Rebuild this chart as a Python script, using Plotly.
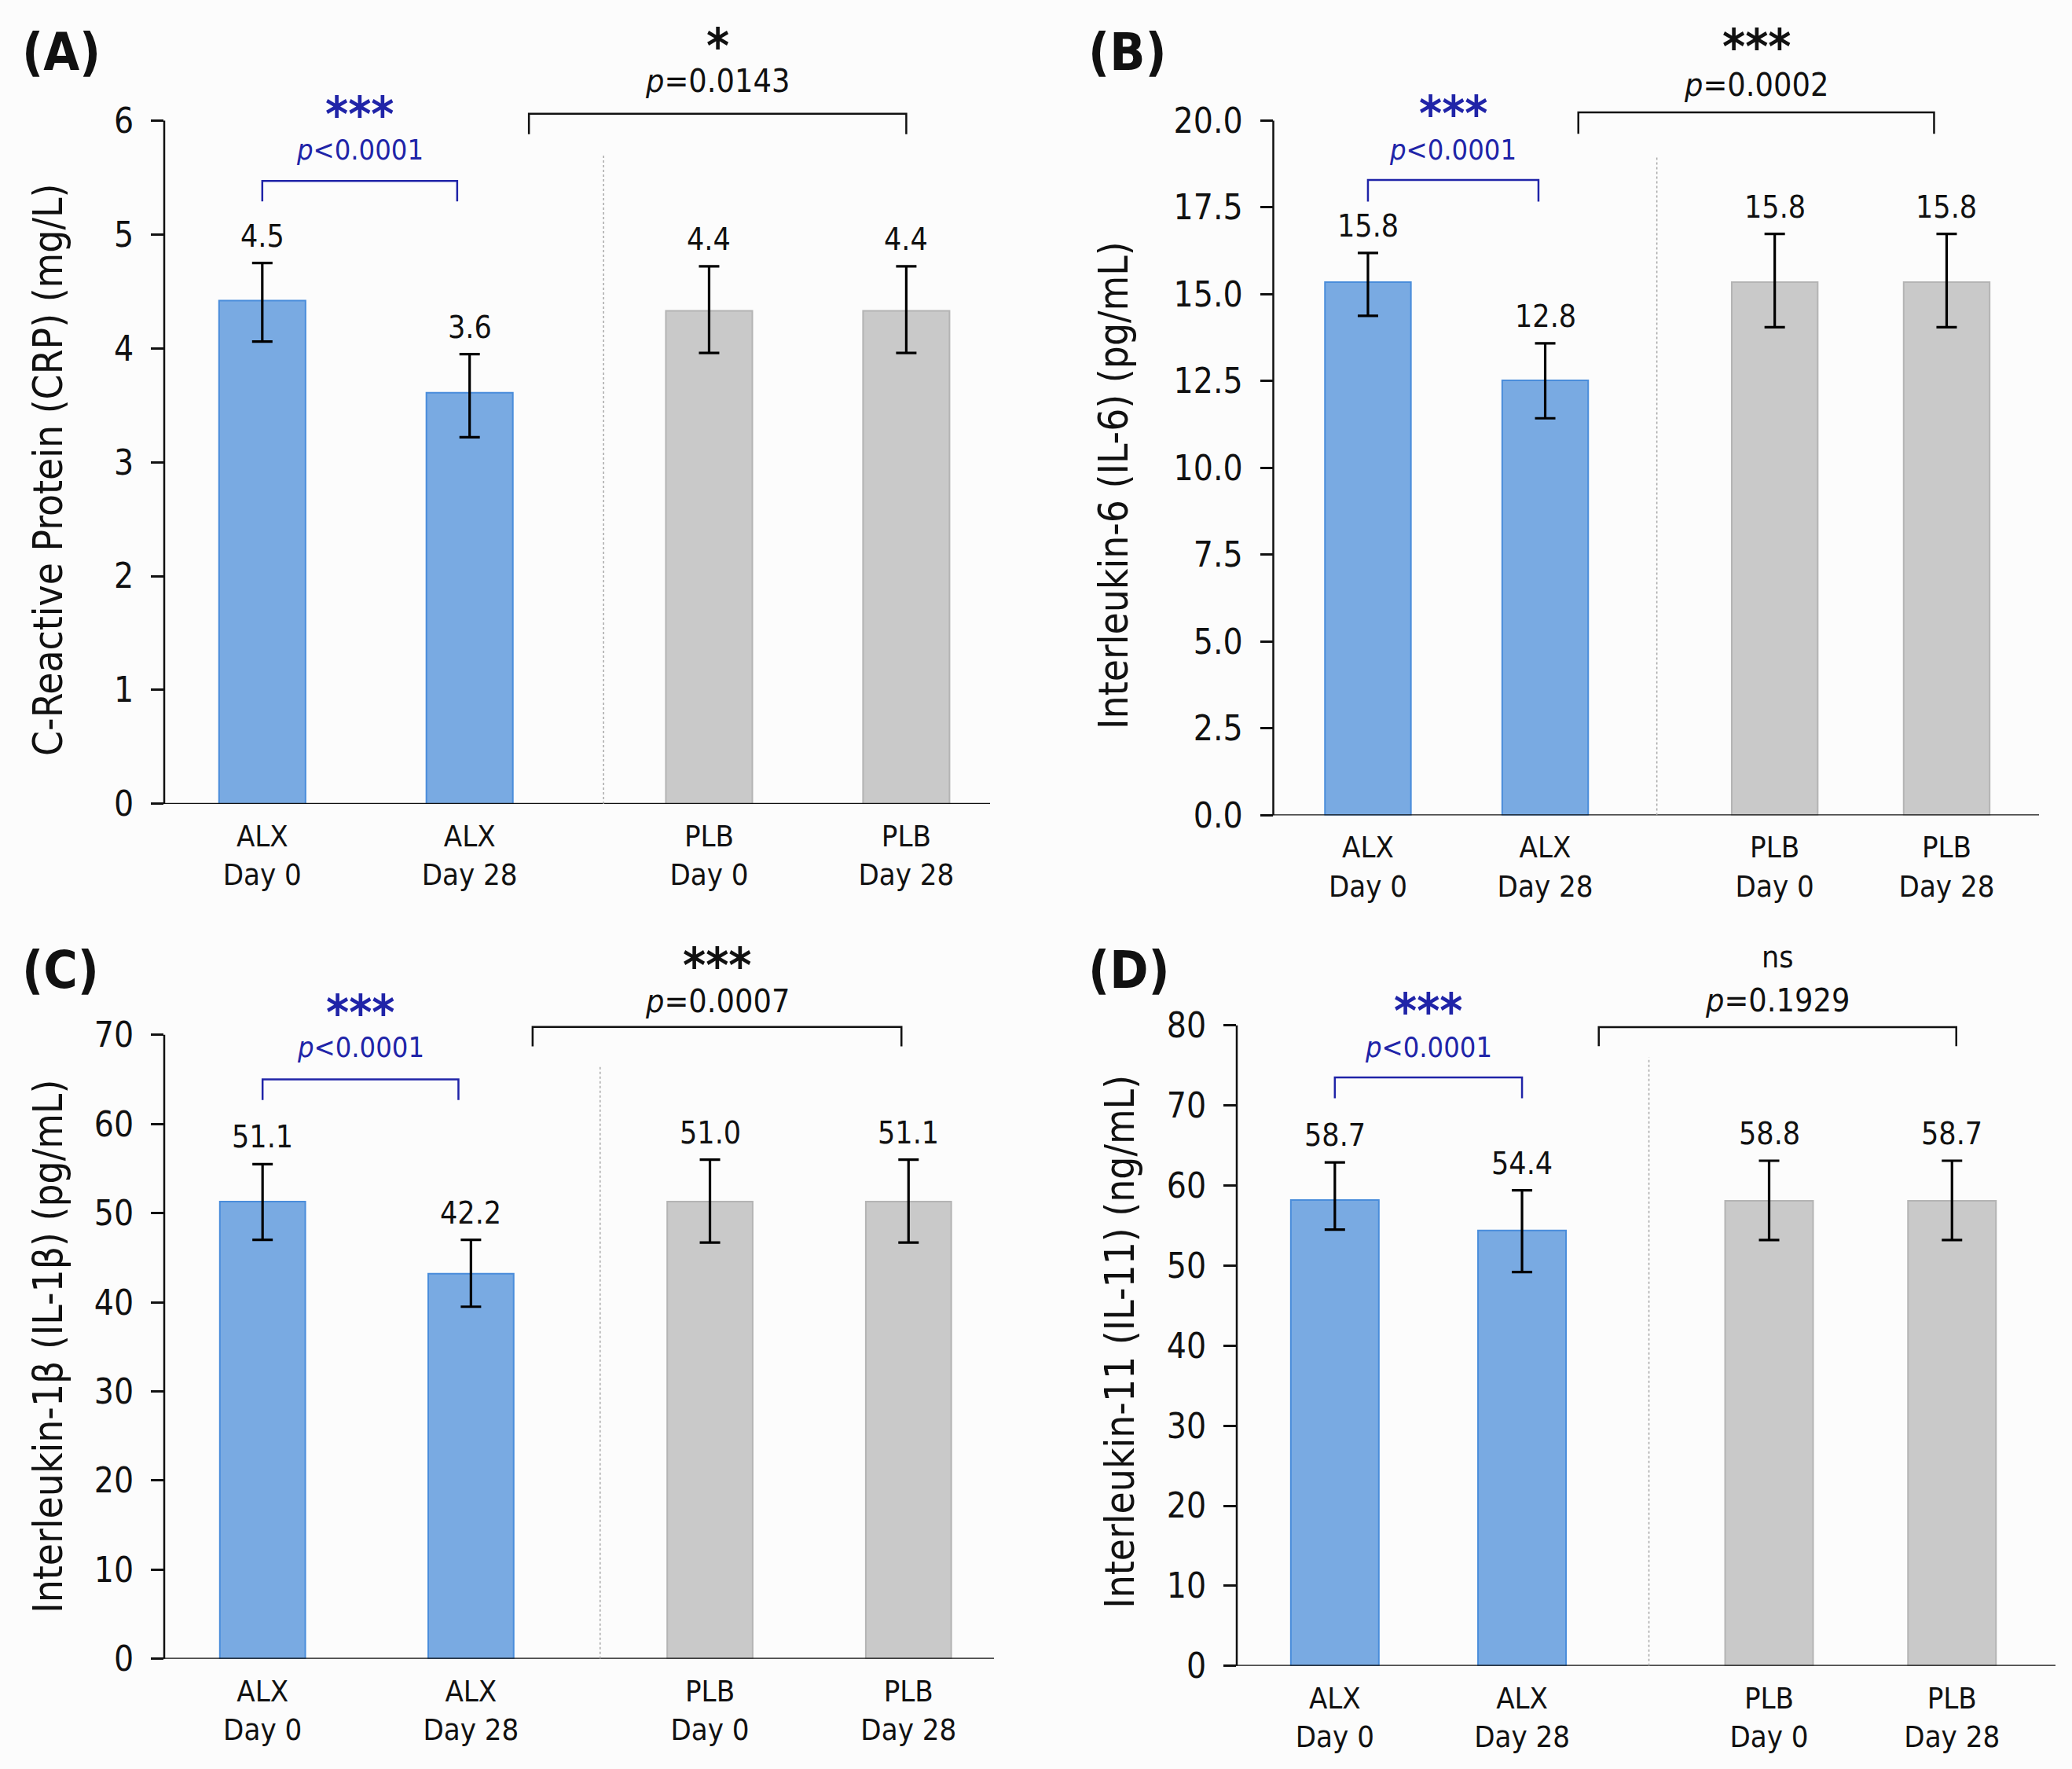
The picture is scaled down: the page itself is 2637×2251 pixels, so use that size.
import plotly.graph_objects as go

W, H = 2637, 2251
# the photographed page comes out ~1.1% shorter vertically; stretch pixel targets to compensate
YFIX = 1 / 0.989
FONT = "DejaVu Sans Condensed, DejaVu Sans, sans-serif"

CATEGORIES = ["ALX<br>Day 0", "ALX<br>Day 28", "PLB<br>Day 0", "PLB<br>Day 28"]

# bar heights, error bars (up / down) and the printed value labels
CRP_MEAN = [4.42, 3.61, 4.33, 4.33]
CRP_UP = [0.33, 0.34, 0.39, 0.39]
CRP_DN = [0.36, 0.39, 0.37, 0.37]
CRP_LABELS = ["4.5", "3.6", "4.4", "4.4"]

IL6_MEAN = [15.35, 12.52, 15.35, 15.35]
IL6_UP = [0.84, 1.07, 1.39, 1.39]
IL6_DN = [0.97, 1.09, 1.30, 1.30]
IL6_LABELS = ["15.8", "12.8", "15.8", "15.8"]

IL1B_MEAN = [51.3, 43.2, 51.3, 51.3]
IL1B_UP = [4.2, 3.8, 4.7, 4.7]
IL1B_DN = [4.3, 3.7, 4.6, 4.6]
IL1B_LABELS = ["51.1", "42.2", "51.0", "51.1"]

IL11_MEAN = [58.2, 54.4, 58.1, 58.1]
IL11_UP = [4.7, 5.0, 5.0, 5.0]
IL11_DN = [3.7, 5.2, 4.9, 4.9]
IL11_LABELS = ["58.7", "54.4", "58.8", "58.7"]

WITHIN_STARS = ["***", "***", "***", "***"]
WITHIN_P = ["<i>p</i>&lt;0.0001"] * 4
BETWEEN_STARS = ["<b>*</b>", "<b>***</b>", "<b>***</b>", "ns"]
BETWEEN_P = ["<i>p</i>=0.0143", "<i>p</i>=0.0002", "<i>p</i>=0.0007", "<i>p</i>=0.1929"]

TAGS = ["(A)", "(B)", "(C)", "(D)"]
YTITLES = [
    "C-Reactive Protein (CRP) (mg/L)",
    "Interleukin-6 (IL-6) (pg/mL)",
    "Interleukin-1β (IL-1β) (pg/mL)",
    "Interleukin-11 (IL-11) (ng/mL)",
]

# panel geometry (pixels) and annotation placement
PANELS = [
    dict(mean=CRP_MEAN, up=CRP_UP, dn=CRP_DN, labels=CRP_LABELS,
         ymax=6, dtick=1, fmt="d", box=(209, 1260, 153.5, 1023),
         pos=[0, 1, 2.155, 3.106], xr=(-0.473, 3.51), bw=0.417, div=1.646,
         within=(0, 0.94, 5.29, 5.47), between=(1.286, 3.106, 5.88, 6.06),
         ytext=(6.12, 5.76, 6.72, 6.38), tag=(26, 67), ttl=(62, 598)),
    dict(mean=IL6_MEAN, up=IL6_UP, dn=IL6_DN, labels=IL6_LABELS,
         ymax=20, dtick=2.5, fmt=".1f", box=(1620.5, 2595, 153.5, 1037.5),
         pos=[0, 1, 2.295, 3.265], xr=(-0.534, 3.786), bw=0.485, div=1.63,
         within=(0, 0.962, 17.67, 18.29), between=(1.187, 3.194, 19.62, 20.24),
         ytext=(20.4, 19.2, 22.33, 21.15), tag=(1383, 67), ttl=(1418, 618)),
    dict(mean=IL1B_MEAN, up=IL1B_UP, dn=IL1B_DN, labels=IL1B_LABELS,
         ymax=70, dtick=10, fmt="d", box=(209, 1265, 1317, 2111),
         pos=[0, 1, 2.147, 3.1], xr=(-0.472, 3.51), bw=0.41, div=1.62,
         within=(0, 0.94, 62.7, 65.0), between=(1.296, 3.066, 68.7, 70.9),
         ytext=(73.3, 68.8, 78.6, 74.2), tag=(26, 1235), ttl=(62, 1714)),
    dict(mean=IL11_MEAN, up=IL11_UP, dn=IL11_DN, labels=IL11_LABELS,
         ymax=80, dtick=10, fmt="d", box=(1574, 2616, 1305, 2120),
         pos=[0, 1, 2.32, 3.297], xr=(-0.524, 3.85), bw=0.47, div=1.678,
         within=(0, 1.0, 70.9, 73.5), between=(1.41, 3.32, 77.4, 79.8),
         ytext=(82.7, 77.5, 88.6, 83.6), tag=(1383, 1235), ttl=(1426, 1708)),
]

BLUE = "#79aae2"
BLUE_EDGE = "#4a8ddb"
GRAY = "#c9c9c9"
GRAY_EDGE = "#b4b4b4"
SIG_BLUE = "#2024a8"
INK = "#111111"


def py(px):
    """pixel row from the top -> paper y"""
    return 1 - px * YFIX / H


fig = go.Figure()
shapes, annotations = [], []
layout = {}

for i, p in enumerate(PANELS):
    n = i + 1
    sfx = "" if n == 1 else str(n)
    xa, ya = "x" + sfx, "y" + sfx
    left, right, top, bot = p["box"]
    dom_top = top - 140
    ytop = p["ymax"] * (bot - dom_top) / (bot - top)

    fig.add_trace(go.Bar(
        x=p["pos"], y=p["mean"], width=p["bw"],
        marker=dict(color=[BLUE, BLUE, GRAY, GRAY],
                    line=dict(color=[BLUE_EDGE, BLUE_EDGE, GRAY_EDGE, GRAY_EDGE], width=2)),
        error_y=dict(type="data", array=p["up"], arrayminus=p["dn"], symmetric=False,
                     color="black", thickness=3.2, width=13),
        xaxis=xa, yaxis=ya, showlegend=False, hoverinfo="y",
    ))

    ticks = []
    v = 0
    while v <= p["ymax"] + 1e-9:
        ticks.append(v)
        v += p["dtick"]
    layout["xaxis" + sfx] = dict(
        domain=[left / W, right / W], range=list(p["xr"]), anchor=ya,
        tickvals=p["pos"], ticktext=CATEGORIES, ticks="", showline=False,
        showgrid=False, zeroline=False, ticklabelstandoff=15,
        tickfont=dict(size=38, color=INK),
    )
    layout["yaxis" + sfx] = dict(
        domain=[py(bot), py(dom_top)], range=[0, ytop], anchor=xa,
        tickvals=ticks, tickformat=p["fmt"], ticks="outside", ticklen=16,
        tickwidth=2.5, tickcolor=INK, showline=False, showgrid=False,
        zeroline=False, ticklabelstandoff=13, tickfont=dict(size=44, color=INK),
    )

    # axis lines
    shapes.append(dict(type="line", xref=f"{xa} domain", yref=ya, x0=0, x1=0,
                       y0=0, y1=p["ymax"], line=dict(color=INK, width=2.5)))
    shapes.append(dict(type="line", xref=f"{xa} domain", yref=ya,
                       x0=-16 / (right - left), x1=1, y0=0, y1=0,
                       line=dict(color=INK, width=2.5)))
    # group divider
    shapes.append(dict(type="line", xref=xa, yref=ya, x0=p["div"], x1=p["div"],
                       y0=0, y1=0.95 * p["ymax"],
                       line=dict(color="#a8a8a8", width=1.5, dash="dot")))
    # brackets
    for (x0, x1, yl, yt), col in ((p["within"], SIG_BLUE), (p["between"], INK)):
        shapes.append(dict(type="path", xref=xa, yref=ya,
                           path=f"M {x0},{yl} L {x0},{yt} L {x1},{yt} L {x1},{yl}",
                           line=dict(color=col, width=2.5)))

    # value labels above error bars
    for x, m, u, lab in zip(p["pos"], p["mean"], p["up"], p["labels"]):
        annotations.append(dict(x=x, y=m + u, xref=xa, yref=ya, text=lab,
                                showarrow=False, yanchor="bottom", yshift=10,
                                font=dict(size=39, color=INK)))

    ys1, yp1, ys2, yp2 = p["ytext"]
    wx = (p["within"][0] + p["within"][1]) / 2
    bx = (p["between"][0] + p["between"][1]) / 2
    star_big = "*" in BETWEEN_STARS[i]
    annotations += [
        dict(x=wx, y=ys1, xref=xa, yref=ya, text=f"<b>{WITHIN_STARS[i]}</b>",
             showarrow=False, yshift=-9, font=dict(size=62, color=SIG_BLUE)),
        dict(x=wx, y=yp1, xref=xa, yref=ya, text=WITHIN_P[i],
             showarrow=False, yshift=-2, font=dict(size=36, color=SIG_BLUE)),
        dict(x=bx, y=ys2, xref=xa, yref=ya, text=BETWEEN_STARS[i], showarrow=False,
             yshift=-9 if star_big else 0,
             font=dict(size=62 if star_big else 39, color=INK)),
        dict(x=bx, y=yp2, xref=xa, yref=ya, text=BETWEEN_P[i],
             showarrow=False, yshift=-5, font=dict(size=41, color=INK)),
    ]

    tx, ty = p["tag"]
    annotations.append(dict(x=tx / W, y=py(ty), xref="paper", yref="paper",
                            text=f"<b>{TAGS[i]}</b>", showarrow=False,
                            xanchor="left", yanchor="middle",
                            font=dict(size=66, color=INK)))
    qx, qy = p["ttl"]
    annotations.append(dict(x=qx / W, y=py(qy), xref="paper", yref="paper",
                            text=YTITLES[i], textangle=-90, showarrow=False,
                            xanchor="center", yanchor="middle",
                            font=dict(size=51, color=INK)))

fig.update_layout(
    width=W, height=H, margin=dict(l=0, r=0, t=0, b=0),
    paper_bgcolor="#fcfcfc", plot_bgcolor="rgba(0,0,0,0)",
    font=dict(family=FONT, color=INK),
    shapes=shapes, annotations=annotations, **layout,
)

# drop the browser's default body margin so the figure sits at the page corner
fig.write_html("out.html", config={"displayModeBar": False},
               post_script="document.body.style.margin='0';")
